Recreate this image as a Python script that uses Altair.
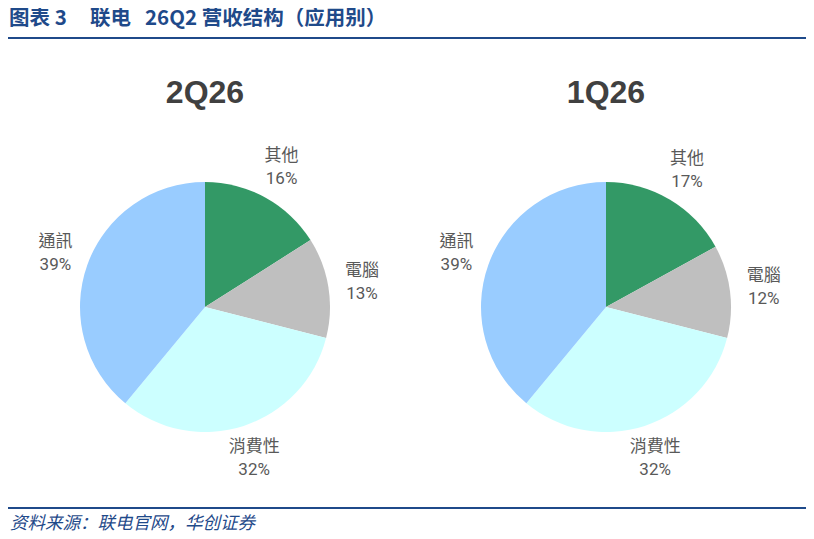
import altair as alt
import pandas as pd

# ---- data ----
categories = ["其他", "電腦", "消費性", "通訊"]
share_2q26 = [16, 13, 32, 39]
share_1q26 = [17, 12, 32, 39]
periods = ["2Q26", "1Q26"]
colors = ["#339966", "#BFBFBF", "#CCFFFF", "#99CCFF"]

NB = "\u00a0"
header = "图表 3" + NB * 5 + "联电" + NB * 3 + "26Q2 营收结构（应用别）"
source = "资料来源：联电官网，华创证券"

rows = []
for p, vals in zip(periods, [share_2q26, share_1q26]):
    for i, (c, v) in enumerate(zip(categories, vals)):
        rows.append({"period": p, "cat": c, "value": v, "idx": i, "pct": f"{v}%"})
df = pd.DataFrame(rows)

W, H = 798, 531
NAVY = "#1F4A8A"
centers = {"2Q26": (197, 299), "1Q26": (598, 299)}
R = 125
LR = 159

one = alt.Data(values=[{}])

layers = []
layers.append(
    alt.Chart(one).mark_text(align="left", baseline="alphabetic", font="Noto Sans CJK SC",
                             fontWeight="bold", fontSize=20.5, color=NAVY)
    .encode(x=alt.value(1), y=alt.value(17), text=alt.value(header))
)
layers.append(
    alt.Chart(one).mark_rule(color=NAVY, strokeWidth=2)
    .encode(x=alt.value(0), x2=alt.value(W), y=alt.value(30))
)
layers.append(
    alt.Chart(one).mark_rule(color=NAVY, strokeWidth=2)
    .encode(x=alt.value(0), x2=alt.value(W), y=alt.value(500))
)
layers.append(
    alt.Chart(one).mark_text(align="left", baseline="middle", font="Noto Sans CJK SC",
                             fontStyle="italic", fontSize=17.5, color=NAVY)
    .encode(x=alt.value(2), y=alt.value(516), text=alt.value(source))
)

color_scale = alt.Scale(domain=categories, range=colors)

for p in periods:
    cx, cy = centers[p]
    layers.append(
        alt.Chart(one).mark_text(align="center", baseline="middle", font="Liberation Sans",
                                 fontWeight="bold", fontSize=32, color="#404040")
        .encode(x=alt.value(cx), y=alt.value(85), text=alt.value(p))
    )
    base = alt.Chart(df).transform_filter(alt.datum.period == p).encode(
        theta=alt.Theta("value:Q", stack=True, scale=alt.Scale(domain=[0, 100])),
        order=alt.Order("idx:Q"),
    )
    layers.append(
        base.mark_arc(radius=R, strokeWidth=0)
        .encode(x=alt.value(cx), y=alt.value(cy),
                color=alt.Color("cat:N", scale=color_scale, legend=None))
    )
    layers.append(
        base.mark_text(radius=LR, dy=-11.5, font="Noto Sans CJK TC", fontSize=17, color="#595959")
        .encode(x=alt.value(cx), y=alt.value(cy), text="cat:N")
    )
    layers.append(
        base.mark_text(radius=LR, dy=11.5, font="Roboto", fontSize=17, color="#595959")
        .encode(x=alt.value(cx), y=alt.value(cy), text="pct:N")
    )

chart = alt.layer(*layers).properties(
    width=W, height=H, autosize=alt.AutoSizeParams(type="none"), padding=0
).configure_view(stroke=None)

chart.save("out.html", embed_options={"renderer": "svg", "actions": False})
